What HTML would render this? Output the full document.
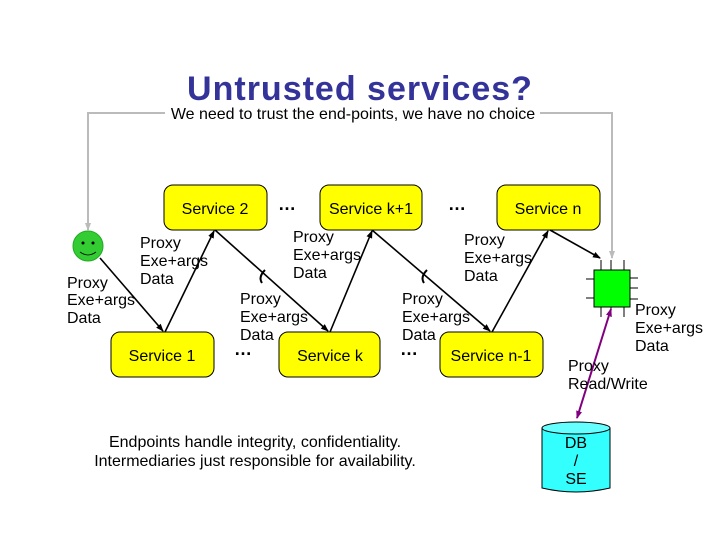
<!DOCTYPE html>
<html><head><meta charset="utf-8"><style>
body{margin:0;background:#fff}
svg text{font-family:"Liberation Sans",sans-serif;fill:#000}
</style></head><body>
<svg width="720" height="540" viewBox="0 0 720 540" xmlns="http://www.w3.org/2000/svg">
<defs>
<marker id="a" markerWidth="8" markerHeight="8" refX="7" refY="4" orient="auto" markerUnits="userSpaceOnUse"><path d="M0,1 L8,4 L0,7z" fill="#000"/></marker>
<marker id="g" markerWidth="8" markerHeight="8" refX="7" refY="4" orient="auto" markerUnits="userSpaceOnUse"><path d="M0,1 L8,4 L0,7z" fill="#bbb"/></marker>
<marker id="p" markerWidth="8" markerHeight="8" refX="7" refY="4" orient="auto-start-reverse" markerUnits="userSpaceOnUse"><path d="M0,1 L8,4 L0,7z" fill="#800080"/></marker>
</defs>
<text x="360" y="100" text-anchor="middle" font-size="34" font-weight="bold" style="fill:#333399;letter-spacing:1px">Untrusted services?</text>
<text x="353" y="119" text-anchor="middle" font-size="16">We need to trust the end-points, we have no choice</text>
<path d="M165,113 H88 V230" fill="none" stroke="#bbb" stroke-width="2" marker-end="url(#g)"/>
<path d="M540,113 H612 V258" fill="none" stroke="#bbb" stroke-width="2" marker-end="url(#g)"/>
<g fill="#ffff00" stroke="#000" stroke-width="1">
<rect x="164" y="185" width="103" height="45" rx="9"/>
<rect x="320" y="185" width="102" height="45" rx="9"/>
<rect x="497" y="185" width="103" height="45" rx="9"/>
<rect x="111" y="332" width="103" height="45" rx="9"/>
<rect x="279" y="332" width="101" height="45" rx="9"/>
<rect x="440" y="332" width="103" height="45" rx="9"/>
</g>
<g font-size="16" text-anchor="middle">
<text x="215" y="214">Service 2</text>
<text x="371" y="214">Service k+1</text>
<text x="548" y="214">Service n</text>
<text x="162" y="361">Service 1</text>
<text x="330" y="361">Service k</text>
<text x="491" y="361">Service n-1</text>
</g>
<g font-size="18" font-weight="bold"><text x="278" y="210">…</text><text x="448" y="210">…</text><text x="234" y="355">…</text><text x="400" y="355">…</text></g>
<circle cx="88" cy="246" r="15" fill="#33cc33" stroke="#2a2" />
<circle cx="83" cy="243" r="1.5" fill="#000"/><circle cx="93" cy="243" r="1.5" fill="#000"/>
<path d="M80,252 Q88,258 96,252" fill="none" stroke="#000" stroke-width="0.8"/>
<g stroke="#000" stroke-width="1.6" fill="none" marker-end="url(#a)">
<line x1="100" y1="258" x2="163" y2="331"/>
<line x1="165" y1="332" x2="214" y2="231"/>
<line x1="215" y1="230" x2="328" y2="331"/>
<line x1="330" y1="332" x2="372" y2="231"/>
<line x1="372" y1="230" x2="490" y2="331"/>
<line x1="492" y1="332" x2="548" y2="231"/>
<line x1="550" y1="230" x2="600" y2="258"/>
</g>
<path d="M265,270 Q258,277 262,283" stroke="#000" stroke-width="2" fill="none"/>
<path d="M427,270 Q420,277 424,283" stroke="#000" stroke-width="2" fill="none"/>
<g stroke="#000" stroke-width="1">
<line x1="601" y1="260" x2="601" y2="270"/><line x1="611" y1="260" x2="611" y2="270"/><line x1="624" y1="260" x2="624" y2="270"/>
<line x1="601" y1="307" x2="601" y2="317"/><line x1="611" y1="307" x2="611" y2="317"/><line x1="624" y1="307" x2="624" y2="317"/>
<line x1="586" y1="279" x2="594" y2="279"/><line x1="586" y1="298" x2="594" y2="298"/>
<line x1="630" y1="278" x2="638" y2="278"/><line x1="630" y1="288" x2="638" y2="288"/><line x1="630" y1="299" x2="638" y2="299"/>
</g>
<rect x="594" y="270" width="36" height="37" fill="#00ff00" stroke="#000"/>
<path d="M542,428 V488 Q576,496 610,488 V428" fill="#33ffff" stroke="#000"/>
<ellipse cx="576" cy="428" rx="34" ry="6" fill="#66ffff" stroke="#000"/>
<g font-size="16" text-anchor="middle"><text x="576" y="448">DB</text><text x="576" y="466">/</text><text x="576" y="484">SE</text></g>
<line x1="611" y1="309" x2="577" y2="418" stroke="#800080" stroke-width="2" marker-start="url(#p)" marker-end="url(#p)"/>
<g font-size="16">
<text x="140" y="248">Proxy</text><text x="140" y="266">Exe+args</text><text x="140" y="284">Data</text>
<text x="67" y="288">Proxy</text><text x="67" y="305">Exe+args</text><text x="67" y="323">Data</text>
<text x="240" y="304">Proxy</text><text x="240" y="322">Exe+args</text><text x="240" y="340">Data</text>
<text x="293" y="242">Proxy</text><text x="293" y="260">Exe+args</text><text x="293" y="278">Data</text>
<text x="402" y="304">Proxy</text><text x="402" y="322">Exe+args</text><text x="402" y="340">Data</text>
<text x="464" y="245">Proxy</text><text x="464" y="263">Exe+args</text><text x="464" y="281">Data</text>
<text x="635" y="315">Proxy</text><text x="635" y="333">Exe+args</text><text x="635" y="351">Data</text>
<text x="568" y="371">Proxy</text><text x="568" y="389">Read/Write</text>
</g>
<g font-size="16" text-anchor="middle"><text x="255" y="447">Endpoints handle integrity, confidentiality.</text><text x="255" y="466">Intermediaries just responsible for availability.</text></g>
</svg>
</body></html>
